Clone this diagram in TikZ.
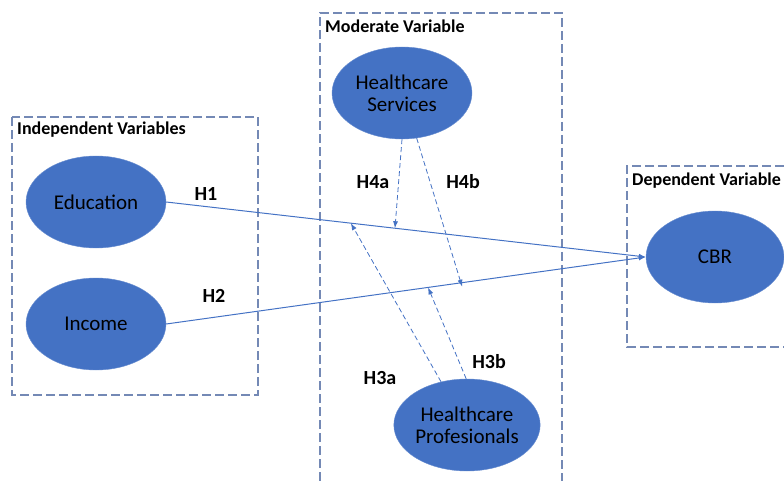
\documentclass[tikz,border=0pt]{standalone}
\usepackage{fontspec}
\setmainfont{Carlito}
\usepackage{tikz}
\usetikzlibrary{shapes.geometric,arrows.meta}

\definecolor{ovalblue}{HTML}{4472C4}
\definecolor{boxline}{HTML}{7489B5}

\begin{document}
\begin{tikzpicture}[x=1pt,y=-1pt,
  var/.style={ellipse, fill=ovalblue, draw=ovalblue!80!white, thin, minimum width=140, minimum height=92,
              inner sep=0pt, align=center, font=\fontsize{21}{22}\selectfont},
  group/.style={boxline, line width=1.1pt, dash pattern=on 9pt off 4pt},
  grouptitle/.style={anchor=west, inner sep=0pt, font=\fontsize{18}{20}\selectfont\bfseries},
  hyp/.style={inner sep=0pt, font=\fontsize{20}{22}\selectfont\bfseries},
  link/.style={ovalblue, line width=1pt, -{Latex[length=7pt,width=5pt]}},
  modlink/.style={ovalblue, line width=0.8pt, dash pattern=on 5pt off 3pt, -{Latex[length=7pt,width=5pt]}}]
\useasboundingbox (0,0) rectangle (784,481);

% boxes
\draw[group] (12,117) rectangle (258,395);
\draw[group] (320,481) |- (562,13) -- (562,481);
\draw[group] (784,166) -| (627,347) -- (784,347);

\node[grouptitle] (indep) at (17,130) {Independent Variables};
\node[grouptitle] (moder) at (325,26) {Moderate Variable};
\node[grouptitle] (depen) at (632,181) {Dependent Variable};

% variables
\node[var] (edu) at (96,202) {Education};
\node[var] (inc) at (96,324) {Income};
\node[var] (hs) at (402,93) {Healthcare\\Services};
\node[var] (hp) at (467,425) {Healthcare\\Profesionals};
\node[var, minimum width=138] (cbr) at (715,257) {CBR};

% direct effects
\draw[link] (edu.east) -- (cbr.west)
  coordinate[pos=0.385] (h3aend) coordinate[pos=0.477] (h4aend);
\draw[link] (inc.east) -- (cbr.west)
  coordinate[pos=0.546] (h3bend) coordinate[pos=0.617] (h4bend);

% moderating effects
\draw[modlink] (hs.south) -- (h4aend);
\draw[modlink] (hs.-72) -- ([yshift=-4]h4bend);
\draw[modlink] (hp.121) -- (h3aend);
\draw[modlink] (hp.91) -- (h3bend);

% labels
\node[hyp] (h1) at (206,194) {H1};
\node[hyp] (h2) at (214,296) {H2};
\node[hyp] (h4a) at (373,182) {H4a};
\node[hyp] (h4b) at (463,182) {H4b};
\node[hyp] (h3a) at (380,378) {H3a};
\node[hyp] (h3b) at (489,362) {H3b};

\end{tikzpicture}
\end{document}
